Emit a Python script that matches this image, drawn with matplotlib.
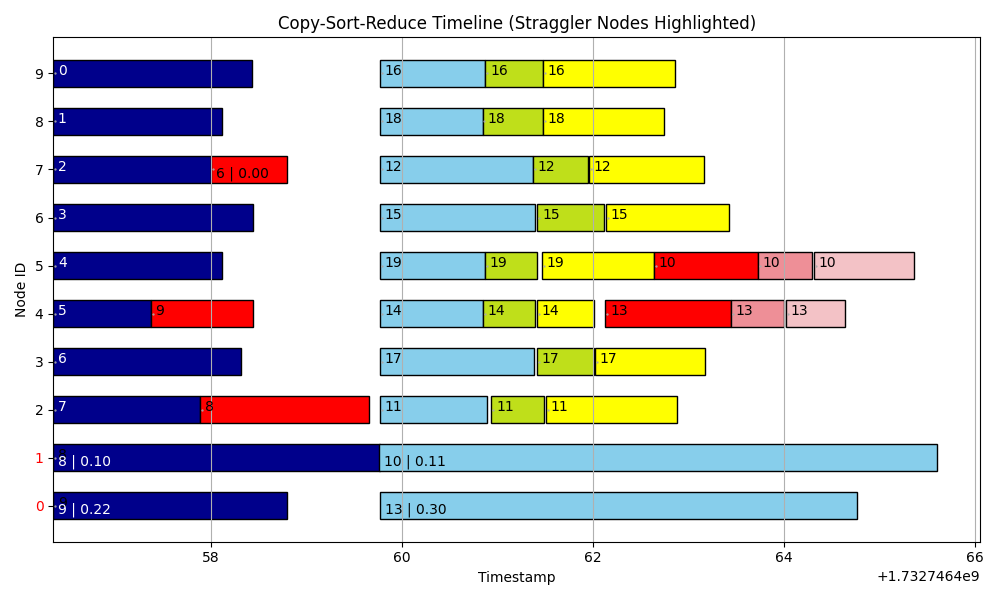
import matplotlib.pyplot as plt

# base timestamp, all times below are seconds after it
base = 1732746400

nodes = list(range(10))
straggler_nodes = [0, 1]

# map phase (navy), indexed by node 0..9
map_start = [56.354] * 10
map_end = [58.80, 59.768, 57.892, 58.319, 57.374, 58.12, 58.445, 58.004, 58.12, 58.43]
map_task = ['9', '8', '7', '6', '5', '4', '3', '2', '1', '0']
map_strag_label = {0: '9 | 0.22', 1: '8 | 0.10'}

# re-run map tasks (red)
remap_node = [7, 4, 2]
remap_start = [58.004, 57.374, 57.892]
remap_end = [58.80, 58.44, 59.66]
remap_task = ['6', '9', '8']
remap_strag_label = {7: '6 | 0.00'}

# copy phase (skyblue)
copy_start = [59.774, 59.766, 59.774, 59.774, 59.774, 59.774, 59.774, 59.774, 59.774, 59.774]
copy_end = [64.765, 65.60, 60.888, 61.38, 60.851, 60.87, 61.395, 61.37, 60.845, 60.874]
reduce_task = ['13', '10', '11', '17', '14', '19', '15', '12', '18', '16']
copy_strag_label = {0: '13 | 0.30', 1: '10 | 0.11'}

# sort phase (green), nodes 2..9
sort_node = [2, 3, 4, 5, 6, 7, 8, 9]
sort_start = [60.937, 61.413, 60.851, 60.87, 61.42, 61.37, 60.845, 60.874]
sort_end = [61.486, 62.006, 61.393, 61.413, 62.115, 61.944, 61.475, 61.475]

# reduce phase (yellow), nodes 2..9
red_start = [61.506, 62.018, 61.413, 61.466, 62.137, 61.958, 61.475, 61.475]
red_end = [62.879, 63.174, 62.01, 62.636, 63.42, 63.16, 62.739, 62.861]

# re-executed reduce tasks of straggler nodes
rerun_node = [5, 4]
rerun_task = ['10', '13']
rerun_copy = [(62.636, 63.723), (62.128, 63.44)]
rerun_sort = [(63.723, 64.296), (63.44, 64.0)]
rerun_reduce = [(64.312, 65.36), (64.018, 64.64)]

h = 0.55
pad = 0.05

fig, ax = plt.subplots(figsize=(10, 6))


def seg(y, s, e, color, label=None, tcolor='black', dot=True):
    ax.barh(y, e - s, left=base + s, height=h, color=color, edgecolor='black')
    if dot:
        ax.plot(base + s + 0.02, y, '.', color='#aaaaaa', ms=1.2)
    if label:
        ax.text(base + s + pad, y + 0.05, label, va='center', color=tcolor, fontsize=10)


def strag_text(y, s, label, tcolor='black'):
    ax.text(base + s + pad, y - 0.08, label, va='center', color=tcolor, fontsize=10)


for n in nodes:
    seg(n, map_start[n], map_end[n], 'darkblue', map_task[n],
        'black' if n in straggler_nodes else 'white')
    if n in map_strag_label:
        strag_text(n, map_start[n], map_strag_label[n], 'white')

for n, s, e, t in zip(remap_node, remap_start, remap_end, remap_task):
    if n in remap_strag_label:
        seg(n, s, e, 'red')
        strag_text(n, s, remap_strag_label[n])
    else:
        seg(n, s, e, 'red', t)

for n in nodes:
    if n in copy_strag_label:
        seg(n, copy_start[n], copy_end[n], 'skyblue', dot=False)
        strag_text(n, copy_start[n], copy_strag_label[n])
    else:
        seg(n, copy_start[n], copy_end[n], 'skyblue', reduce_task[n])

for i, n in enumerate(sort_node):
    seg(n, sort_start[i], sort_end[i], '#bfdf1a', reduce_task[n])
    seg(n, red_start[i], red_end[i], 'yellow', reduce_task[n])

for i, n in enumerate(rerun_node):
    seg(n, *rerun_copy[i], 'red', rerun_task[i])
    seg(n, *rerun_sort[i], '#ee8f97', rerun_task[i])
    seg(n, *rerun_reduce[i], '#f3c2c6', rerun_task[i])

ax.set_xlim(base + 56.354, base + 66.05)
ax.set_yticks(nodes)
for lbl in ax.get_yticklabels():
    if int(lbl.get_text()) in straggler_nodes:
        lbl.set_color('red')
ax.grid(axis='x')
ax.set_xlabel('Timestamp')
ax.set_ylabel('Node ID')
ax.set_title('Copy-Sort-Reduce Timeline (Straggler Nodes Highlighted)')

plt.tight_layout()
plt.savefig('out.png', dpi=100)
